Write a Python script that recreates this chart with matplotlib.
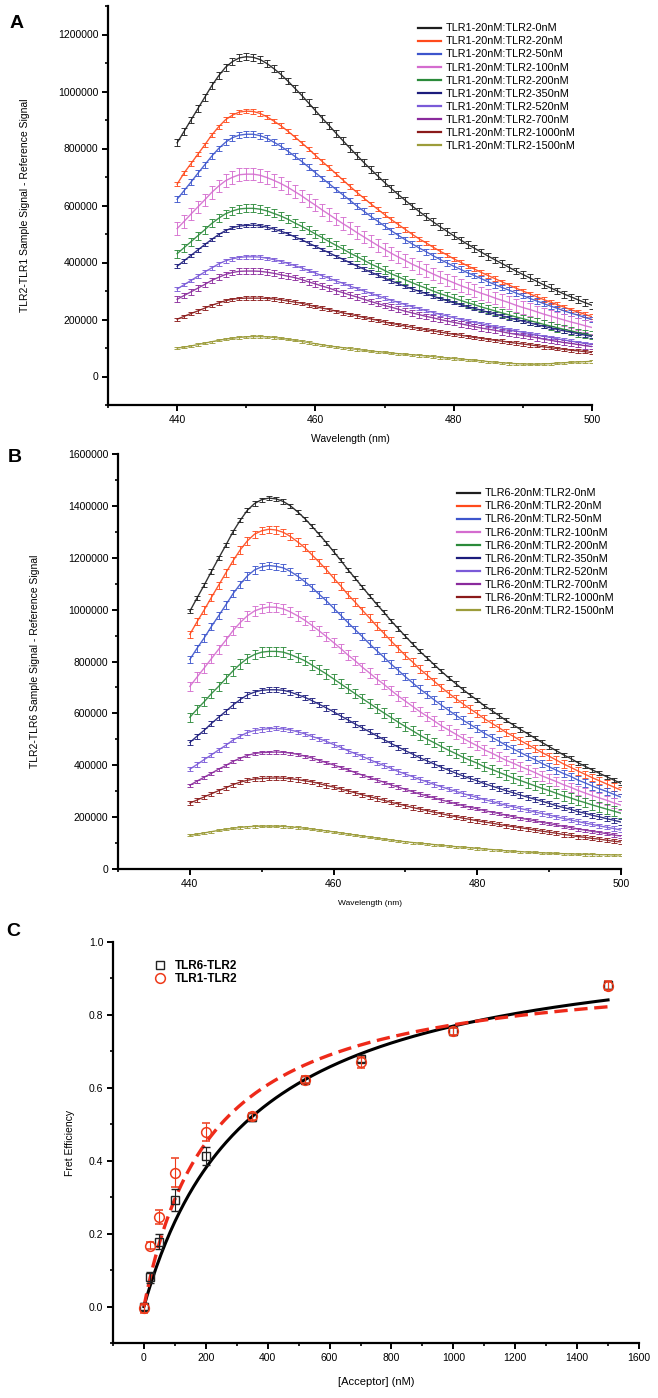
import numpy as np
import matplotlib.pyplot as plt
from matplotlib.ticker import MultipleLocator
from matplotlib.lines import Line2D

plt.rcParams['font.family'] = ['Liberation Sans', 'DejaVu Sans']

# wavelength grid (nm), 1 nm steps
wavelength = np.arange(440, 501)
concentrations = ['0nM', '20nM', '50nM', '100nM', '200nM', '350nM', '520nM', '700nM', '1000nM', '1500nM']
colors = ['#1e1e1e', '#ff4a1c', '#3d55cc', '#d46ccf', '#2b8a3a',
          '#1c1c7c', '#7a5ad8', '#8a2a9c', '#8b1a1a', '#9c9c3a']

# ---- panel A: TLR1-20nM titrated with TLR2 (values in thousands) ----
a_0 = [820, 860, 900, 940, 980, 1020, 1055, 1085, 1105, 1118, 1122, 1120, 1112, 1098, 1080, 1060, 1037, 1012, 987, 960,
       933, 906, 880, 853, 827, 801, 776, 751, 727, 704, 681, 659, 638, 618, 598, 579, 561, 543, 526, 510,
       494, 479, 464, 450, 436, 422, 409, 396, 383, 370, 358, 346, 334, 322, 311, 300, 289, 279, 269, 259, 250]
a_20 = [675, 714, 747, 780, 813, 847, 876, 901, 917, 928, 931, 930, 923, 911, 896, 880, 861, 841, 820, 799,
        776, 754, 733, 711, 689, 667, 646, 626, 606, 587, 568, 550, 533, 516, 499, 483, 469, 454, 440, 427,
        413, 401, 388, 377, 365, 354, 343, 332, 321, 310, 300, 290, 280, 270, 261, 252, 243, 234, 226, 218, 210]
a_50 = [622, 652, 682, 713, 743, 773, 800, 822, 838, 847, 850, 850, 845, 836, 822, 808, 791, 773, 755, 735,
        715, 695, 676, 656, 637, 618, 598, 580, 562, 545, 528, 511, 495, 480, 465, 451, 438, 424, 411, 399,
        387, 376, 364, 354, 343, 332, 322, 312, 303, 293, 284, 274, 265, 256, 247, 239, 230, 222, 215, 207, 200]
a_100 = [519, 544, 570, 595, 620, 646, 668, 687, 699, 708, 710, 710, 706, 698, 688, 677, 664, 649, 634, 617,
         601, 584, 568, 552, 536, 521, 505, 490, 475, 460, 446, 432, 419, 407, 394, 383, 371, 360, 349, 339,
         329, 319, 310, 301, 292, 284, 275, 267, 259, 250, 242, 235, 227, 219, 212, 205, 198, 191, 185, 178, 172]
a_200 = [431, 452, 473, 494, 515, 537, 555, 571, 581, 588, 590, 590, 587, 581, 572, 563, 552, 539, 527, 514,
         500, 487, 473, 460, 447, 433, 421, 408, 395, 384, 372, 360, 350, 339, 329, 319, 310, 300, 291, 283,
         275, 267, 259, 252, 244, 237, 230, 223, 216, 209, 203, 196, 190, 183, 177, 171, 165, 160, 154, 149, 144]
a_350 = [387, 406, 425, 444, 463, 481, 498, 512, 522, 528, 530, 531, 529, 524, 517, 510, 501, 490, 480, 468,
         457, 445, 434, 422, 411, 399, 388, 377, 366, 356, 345, 335, 326, 316, 307, 299, 291, 282, 274, 267,
         259, 252, 245, 239, 232, 225, 219, 213, 206, 200, 194, 188, 182, 176, 171, 165, 160, 155, 150, 145, 140]
a_520 = [307, 322, 337, 352, 367, 381, 395, 406, 413, 418, 420, 420, 419, 415, 410, 404, 397, 389, 381, 372,
         363, 353, 345, 335, 327, 317, 309, 300, 292, 283, 275, 267, 260, 252, 245, 238, 231, 225, 218, 213,
         206, 201, 195, 190, 185, 180, 175, 170, 165, 160, 155, 151, 146, 141, 137, 132, 128, 124, 120, 116, 112]
a_700 = [271, 284, 297, 310, 323, 337, 348, 358, 365, 369, 370, 370, 369, 366, 362, 357, 352, 347, 340, 332,
         325, 317, 310, 301, 294, 286, 279, 271, 263, 256, 249, 243, 236, 229, 223, 217, 211, 206, 200, 195,
         190, 185, 180, 175, 170, 166, 162, 157, 152, 148, 144, 140, 136, 131, 127, 123, 119, 116, 112, 108, 105]
a_1000 = [201, 211, 221, 230, 240, 250, 258, 266, 271, 274, 275, 275, 275, 274, 272, 269, 265, 261, 257, 251,
          245, 240, 235, 229, 223, 218, 213, 207, 202, 197, 191, 186, 182, 177, 173, 168, 164, 160, 156, 152,
          148, 145, 141, 137, 134, 130, 127, 124, 120, 117, 114, 111, 108, 104, 101, 98, 95, 92, 90, 87, 84]
a_1500 = [100, 103, 107, 112, 117, 122, 127, 131, 134, 137, 139, 140, 140, 139, 137, 134, 131, 127, 123, 119,
          115, 111, 107, 104, 101, 98, 95, 92, 89, 87, 85, 82, 80, 78, 76, 74, 72, 70, 67, 65,
          63, 61, 59, 57, 55, 52, 50, 48, 46, 45, 44, 43, 43, 44, 45, 47, 48, 50, 51, 52, 53]
a_err = [12, 8, 10, 22, 14, 6, 6, 10, 6, 4]

# ---- panel B: TLR6-20nM titrated with TLR2 (values in thousands) ----
b_0 = [994, 1045, 1095, 1147, 1198, 1248, 1300, 1344, 1383, 1409, 1424, 1430, 1427, 1417, 1400, 1377, 1351, 1321, 1290, 1258,
       1224, 1190, 1154, 1121, 1087, 1054, 1021, 990, 957, 927, 897, 868, 839, 814, 788, 762, 738, 715, 692, 671,
       651, 629, 611, 592, 573, 556, 538, 522, 505, 488, 472, 456, 440, 426, 410, 396, 382, 369, 356, 343, 330]
b_20 = [905, 953, 999, 1047, 1094, 1141, 1188, 1230, 1265, 1291, 1304, 1310, 1307, 1298, 1282, 1261, 1239, 1211, 1183, 1154,
        1122, 1091, 1058, 1029, 998, 968, 937, 909, 879, 851, 823, 798, 771, 748, 724, 700, 678, 657, 637, 617,
        599, 579, 562, 545, 527, 512, 495, 480, 465, 449, 435, 420, 405, 392, 378, 365, 352, 340, 328, 316, 304]
b_50 = [808, 851, 891, 935, 976, 1018, 1061, 1098, 1130, 1153, 1165, 1170, 1167, 1161, 1147, 1129, 1108, 1085, 1059, 1034,
        1006, 978, 950, 923, 896, 868, 842, 817, 790, 766, 741, 718, 694, 674, 652, 632, 612, 593, 574, 557,
        541, 523, 508, 493, 477, 463, 449, 435, 422, 407, 394, 381, 368, 357, 343, 332, 320, 309, 299, 288, 277]
b_100 = [704, 740, 775, 811, 847, 882, 919, 950, 976, 995, 1005, 1010, 1009, 1003, 991, 976, 959, 939, 918, 896,
         873, 850, 825, 803, 778, 756, 733, 712, 689, 667, 647, 627, 607, 589, 571, 552, 536, 520, 504, 489,
         475, 459, 447, 433, 419, 408, 395, 384, 372, 359, 348, 337, 325, 315, 303, 293, 283, 274, 265, 255, 246]
b_200 = [585, 616, 645, 676, 704, 734, 764, 790, 812, 827, 836, 839, 839, 836, 827, 815, 803, 786, 769, 752,
         733, 714, 695, 676, 657, 639, 620, 602, 584, 566, 549, 533, 516, 501, 487, 472, 458, 445, 431, 419,
         408, 394, 384, 373, 362, 351, 341, 331, 321, 311, 302, 292, 282, 274, 264, 256, 247, 239, 231, 223, 215]
b_350 = [488, 512, 535, 561, 585, 608, 632, 653, 671, 682, 689, 691, 691, 689, 682, 672, 662, 649, 635, 621,
         606, 590, 575, 559, 544, 529, 514, 499, 484, 470, 456, 443, 429, 417, 405, 392, 381, 370, 359, 349,
         340, 329, 320, 311, 302, 294, 285, 277, 269, 261, 253, 244, 237, 230, 221, 215, 207, 201, 194, 188, 181]
b_520 = [385, 403, 422, 440, 459, 477, 497, 512, 526, 534, 538, 541, 542, 540, 536, 529, 521, 511, 502, 492,
         480, 469, 456, 445, 434, 422, 410, 399, 388, 376, 366, 356, 345, 336, 326, 317, 308, 300, 291, 283,
         276, 267, 261, 253, 246, 240, 233, 227, 220, 214, 208, 201, 195, 189, 183, 177, 172, 166, 161, 156, 150]
b_700 = [323, 339, 354, 369, 385, 399, 415, 427, 438, 445, 449, 450, 451, 450, 447, 442, 435, 428, 419, 410,
         401, 392, 382, 372, 362, 353, 343, 335, 324, 316, 307, 298, 289, 282, 274, 266, 259, 252, 244, 238,
         232, 225, 219, 214, 207, 202, 196, 191, 186, 180, 175, 170, 164, 160, 154, 150, 145, 141, 136, 131, 127]
b_1000 = [254, 266, 278, 290, 302, 313, 325, 335, 342, 347, 349, 350, 351, 350, 348, 345, 340, 336, 329, 322,
          316, 308, 301, 294, 286, 279, 272, 265, 257, 251, 244, 237, 231, 225, 219, 213, 207, 202, 196, 191,
          186, 181, 177, 172, 167, 163, 159, 155, 150, 146, 142, 138, 133, 130, 125, 122, 118, 115, 111, 107, 104]
b_1500 = [130, 134, 139, 144, 149, 153, 157, 160, 163, 164, 165, 165, 165, 164, 162, 160, 157, 154, 150, 147,
          143, 139, 135, 131, 127, 123, 119, 115, 112, 108, 105, 102, 99, 97, 94, 91, 89, 86, 84, 82,
          79, 77, 75, 73, 70, 68, 67, 65, 64, 62, 61, 60, 59, 58, 57, 56, 56, 55, 55, 54, 54]
b_err = [8, 14, 14, 18, 18, 10, 8, 6, 8, 4]

# ---- panel C: FRET efficiency vs acceptor ----
acceptor = [0, 20, 50, 100, 200, 350, 520, 700, 1000, 1500]
fret_tlr6 = [0.0, 0.08, 0.178, 0.293, 0.414, 0.52, 0.622, 0.68, 0.756, 0.882]
fret_tlr6_err = [0.01, 0.015, 0.02, 0.03, 0.025, 0.01, 0.01, 0.01, 0.01, 0.01]
fret_tlr1 = [-0.005, 0.167, 0.246, 0.367, 0.479, 0.522, 0.622, 0.67, 0.755, 0.88]
fret_tlr1_err = [0.012, 0.01, 0.02, 0.04, 0.025, 0.01, 0.01, 0.015, 0.01, 0.012]
# hyperbolic fit parameters (Emax, Kd in nM)
fit_tlr6 = (1.034, 344)
fit_tlr1 = (0.943, 220)

W, H = 658, 1398
fig = plt.figure(figsize=(W / 100, H / 100), dpi=100)


def px_axes(left, top, right, bottom):
    return fig.add_axes([left / W, 1 - bottom / H, (right - left) / W, (bottom - top) / H])


def style(ax):
    for s in ['top', 'right']:
        ax.spines[s].set_visible(False)
    for s in ['left', 'bottom']:
        ax.spines[s].set_linewidth(1.6)
    ax.tick_params(which='major', direction='out', length=4, width=1.4, labelsize=7.5, pad=3)
    ax.tick_params(which='minor', direction='out', length=2.5, width=1.2)


def spectra(ax, series, errs, prefix, legend_xy):
    for vals, err, c, conc in zip(series, errs, colors, concentrations):
        y = np.array(vals) * 1000
        ax.errorbar(wavelength, y, yerr=err * 1000, color=c, lw=1.0, elinewidth=0.7,
                    capsize=2.4, capthick=0.7, alpha=0.9)
        ax.plot([], [], color=c, lw=1.6, label=f'{prefix}-20nM:TLR2-{conc}')
    ax.set_xlim(430, 500)
    ax.set_xticks([440, 460, 480, 500])
    ax.xaxis.set_minor_locator(MultipleLocator(10))
    ax.yaxis.set_major_locator(MultipleLocator(200000))
    ax.yaxis.set_minor_locator(MultipleLocator(100000))
    ax.yaxis.set_major_formatter(plt.FuncFormatter(lambda v, p: f'{int(round(v))}'))
    style(ax)
    ax.legend(loc='upper left', bbox_to_anchor=(legend_xy[0] / W, 1 - legend_xy[1] / H),
              bbox_transform=fig.transFigure, frameon=False, fontsize=7.8,
              handlelength=2.1, handletextpad=0.4, labelspacing=0.28, borderpad=0)


# panel A
axA = px_axes(108, 6, 592, 405)
spectra(axA, [a_0, a_20, a_50, a_100, a_200, a_350, a_520, a_700, a_1000, a_1500],
        a_err, 'TLR1', (413, 18))
axA.set_ylim(-100000, 1300000)
axA.set_yticks(np.arange(0, 1200001, 200000))
axA.set_ylabel('TLR2-TLR1 Sample Signal - Reference Signal', fontsize=7.5, labelpad=20)
axA.set_xlabel('Wavelength (nm)', fontsize=7.5, labelpad=7)
fig.text(10 / W, 1 - 23 / H, 'A', fontsize=14, fontweight='bold', va='center')

# panel B
axB = px_axes(118, 454, 621, 869)
spectra(axB, [b_0, b_20, b_50, b_100, b_200, b_350, b_520, b_700, b_1000, b_1500],
        b_err, 'TLR6', (452, 483))
axB.set_ylim(0, 1600000)
axB.set_ylabel('TLR2-TLR6 Sample Signal - Reference Signal', fontsize=7.5, labelpad=20)
axB.set_xlabel('Wavelength (nm)', fontsize=6, labelpad=8)
fig.text(8 / W, 1 - 458 / H, 'B', fontsize=14, fontweight='bold', va='center')

# panel C
axC = px_axes(113, 942, 639, 1343)
xs = np.linspace(0, 1500, 300)
emax, kd = fit_tlr6
axC.plot(xs, emax * xs / (kd + xs), color='black', lw=2.2, zorder=3)
emax, kd = fit_tlr1
axC.plot(xs, emax * xs / (kd + xs), color='#ee2a1a', lw=2.4, ls=(0, (4, 2)), zorder=4)
axC.errorbar(acceptor, fret_tlr6, yerr=fret_tlr6_err, fmt='s', ms=5.5, mfc='none', mec='#222222',
             mew=1.0, ecolor='#222222', elinewidth=0.8, capsize=3, capthick=0.8, zorder=5)
axC.errorbar(acceptor, fret_tlr1, yerr=fret_tlr1_err, fmt='o', ms=7, mfc='none', mec='#ee3a1a',
             mew=1.1, ecolor='#ee3a1a', elinewidth=0.8, capsize=3, capthick=0.8, zorder=6)
axC.set_xlim(-100, 1600)
axC.set_ylim(-0.1, 1.0)
axC.xaxis.set_major_locator(MultipleLocator(200))
axC.xaxis.set_minor_locator(MultipleLocator(100))
axC.set_yticks(np.arange(0, 1.01, 0.2))
axC.yaxis.set_minor_locator(MultipleLocator(0.1))
axC.yaxis.set_major_formatter(plt.FormatStrFormatter('%.1f'))
style(axC)
axC.set_ylabel('Fret Efficiency', fontsize=7.5, labelpad=10)
axC.set_xlabel('[Acceptor] (nM)', fontsize=8, labelpad=10)
handles = [Line2D([], [], ls='none', marker='s', ms=5.5, mfc='none', mec='#222222', mew=1.0),
           Line2D([], [], ls='none', marker='o', ms=7, mfc='none', mec='#ee3a1a', mew=1.1)]
leg = axC.legend(handles, ['TLR6-TLR2', 'TLR1-TLR2'], loc='upper left',
                 bbox_to_anchor=(148 / W, 1 - 954 / H), bbox_transform=fig.transFigure,
                 frameon=False, fontsize=8.5, handlelength=1.0, handletextpad=0.8, labelspacing=0.1, borderpad=0)
for t in leg.get_texts():
    t.set_fontweight('bold')
fig.text(6 / W, 1 - 932 / H, 'C', fontsize=14, fontweight='bold', va='center')

fig.savefig('out.png', dpi=100)
